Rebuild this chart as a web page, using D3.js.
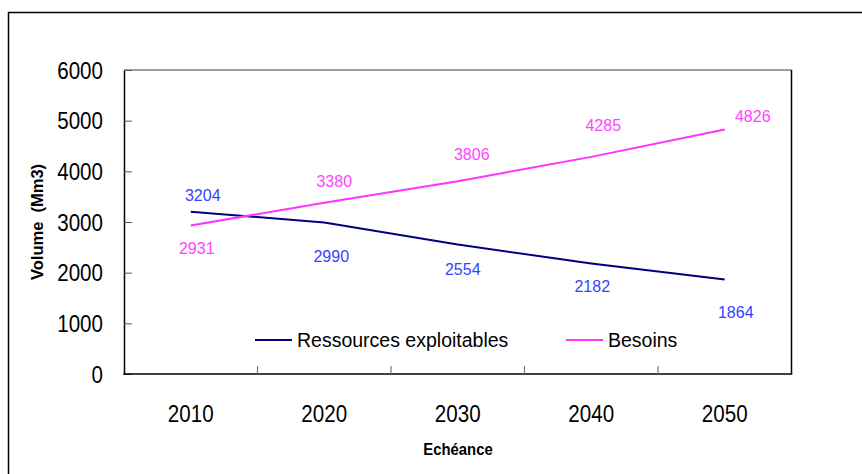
<!DOCTYPE html>
<html>
<head>
<meta charset="utf-8">
<script src="https://cdn.jsdelivr.net/npm/d3@7"></script>
<style>
  html, body { margin: 0; padding: 0; background: #fff; }
  svg { display: block; font-family: "Liberation Sans", Arial, sans-serif; }
</style>
</head>
<body>
<svg id="chart" width="862" height="474"></svg>
<script>
// Échéances and water volumes (Mm3)
const years = ["2010", "2020", "2030", "2040", "2050"];
const ressources = [3204, 2990, 2554, 2182, 1864];
const besoins = [2931, 3380, 3806, 4285, 4826];
const yTicks = [0, 1000, 2000, 3000, 4000, 5000, 6000];

// Hand placement of the value labels relative to their point (dx, baseline dy)
const ressourcesLabelNudge = [[12, -11], [7, 39], [5, 30], [1, 29], [11, 38]];
const besoinsLabelNudge = [[6, 29], [10, -16], [14, -21], [12, -26], [28, -7]];

const svg = d3.select("#chart");

const plot = { left: 124, top: 70, right: 791.5, bottom: 374 };

const x = d3.scaleBand().domain(years).range([plot.left, plot.right]).padding(0);
const y = d3.scaleLinear().domain([0, 6000]).range([plot.bottom, plot.top]);
const cx = d => x(d) + x.bandwidth() / 2;

// Outer frame of the chart object
svg.append("rect")
  .attr("x", 8.5).attr("y", 12.5)
  .attr("width", 900).attr("height", 500)
  .attr("fill", "none").attr("stroke", "#000").attr("stroke-width", 1.5);

// Plot area frame: grey top edge, black elsewhere
svg.append("line")
  .attr("x1", plot.left).attr("x2", plot.right)
  .attr("y1", plot.top).attr("y2", plot.top)
  .attr("stroke", "#7f7f7f").attr("stroke-width", 1.5);
svg.append("line")
  .attr("x1", plot.right).attr("x2", plot.right)
  .attr("y1", plot.top).attr("y2", plot.bottom)
  .attr("stroke", "#000").attr("stroke-width", 1.5);

// Y axis with inward ticks
const yAxis = svg.append("g")
  .attr("transform", `translate(${plot.left},0)`)
  .call(d3.axisRight(y).tickValues(yTicks).tickSize(8).tickSizeOuter(0).tickFormat(""));
yAxis.select(".domain").attr("stroke", "#000").attr("stroke-width", 1.5);
yAxis.selectAll(".tick line").attr("stroke", "#555").attr("stroke-width", 1);

// X axis baseline and category separators
svg.append("line")
  .attr("x1", plot.left - 0.75).attr("x2", plot.right + 0.75)
  .attr("y1", plot.bottom).attr("y2", plot.bottom)
  .attr("stroke", "#000").attr("stroke-width", 1.5);
svg.append("g").selectAll("line")
  .data(years.slice(0, -1))
  .join("line")
  .attr("x1", d => x(d) + x.bandwidth()).attr("x2", d => x(d) + x.bandwidth())
  .attr("y1", plot.bottom).attr("y2", plot.bottom - 8)
  .attr("stroke", "#777").attr("stroke-width", 1.2);

// Tick labels (condensed sans)
svg.append("g").selectAll("text")
  .data(yTicks)
  .join("text")
  .attr("transform", d => `translate(103,${y(d)}) scale(0.84,1)`)
  .attr("text-anchor", "end")
  .attr("dy", "0.36em")
  .attr("font-size", 24.5)
  .attr("fill", "#000")
  .text(d => d);

svg.append("g").selectAll("text")
  .data(years)
  .join("text")
  .attr("transform", d => `translate(${cx(d)},421.5) scale(0.84,1)`)
  .attr("text-anchor", "middle")
  .attr("font-size", 24.5)
  .attr("fill", "#000")
  .text(d => d);

// Axis titles
svg.append("text")
  .attr("transform", "translate(458,455) scale(0.9,1)")
  .attr("text-anchor", "middle")
  .attr("font-size", 16.5)
  .attr("font-weight", "bold")
  .text("Echéance");

svg.append("text")
  .attr("transform", "translate(43,222) rotate(-90)")
  .attr("text-anchor", "middle")
  .attr("font-size", 16.5)
  .attr("font-weight", "bold")
  .style("white-space", "pre")
  .text("Volume  (Mm3)");

// Series lines
const line = d3.line().x(d => cx(d.year)).y(d => y(d.value));
const series = [
  { name: "Ressources exploitables", values: ressources, stroke: "#000080", label: "#3344ff", nudge: ressourcesLabelNudge },
  { name: "Besoins", values: besoins, stroke: "#ff33ff", label: "#ff44ff", nudge: besoinsLabelNudge }
];

series.forEach(s => {
  const pts = years.map((yr, i) => ({ year: yr, value: s.values[i] }));
  svg.append("path")
    .datum(pts)
    .attr("fill", "none")
    .attr("stroke", s.stroke)
    .attr("stroke-width", 2)
    .attr("d", line);

  svg.append("g").selectAll("text")
    .data(pts)
    .join("text")
    .attr("x", (d, i) => cx(d.year) + s.nudge[i][0])
    .attr("y", (d, i) => y(d.value) + s.nudge[i][1])
    .attr("text-anchor", "middle")
    .attr("font-size", 16)
    .attr("fill", s.label)
    .text(d => d.value);
});

// Legend
const legend = [
  { name: series[0].name, stroke: series[0].stroke, x: 255 },
  { name: series[1].name, stroke: series[1].stroke, x: 566 }
];
const lg = svg.append("g").selectAll("g").data(legend).join("g")
  .attr("transform", d => `translate(${d.x},340)`);
lg.append("line")
  .attr("x1", 0).attr("x2", 37).attr("y1", 0).attr("y2", 0)
  .attr("stroke", d => d.stroke).attr("stroke-width", 2);
lg.append("text")
  .attr("x", 42).attr("y", 6.5)
  .attr("font-size", 19.5)
  .attr("fill", "#000")
  .text(d => d.name);
</script>
</body>
</html>
